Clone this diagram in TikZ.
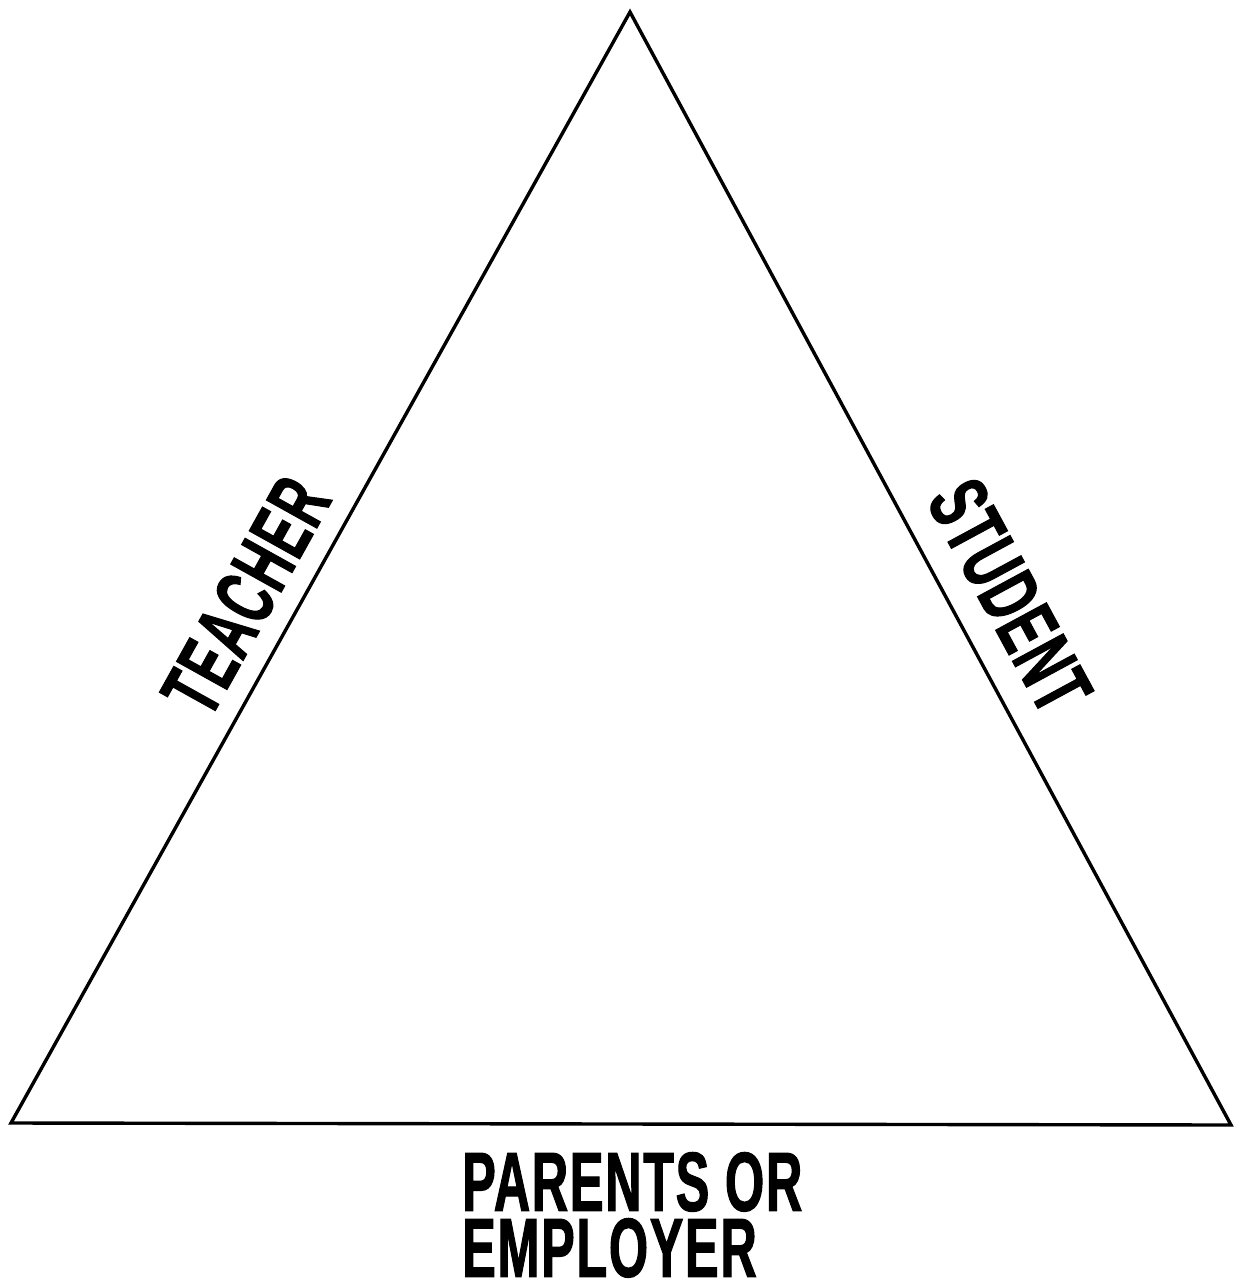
\documentclass[tikz,border=0pt]{standalone}
\usepackage{fontspec}
\newfontfamily\cond[FakeStretch=0.6,FakeBold=1.2,LetterSpace=2]{Liberation Sans}
\begin{document}
\begin{tikzpicture}[x=1pt,y=-1pt,
  edge/.style={line width=3.4pt,line join=miter,line cap=round},
  lbl/.style={inner sep=0pt,font=\cond\bfseries\fontsize{84}{66}\selectfont}]
\useasboundingbox[fill=white] (0,0) rectangle (1234,1283);
\coordinate (apex) at (630,12);
\coordinate (bl) at (11,1123);
\coordinate (br) at (1231,1125);
\draw[edge] (apex) -- (br) -- (bl) -- cycle;
\node[lbl,rotate=60.9] (teacher) at (246,596) {TEACHER};
\node[lbl,rotate=-61.6] (student) at (1010,596) {STUDENT};
\node[lbl,align=left,anchor=north west] (parents) at (462,1152) {PARENTS OR\\EMPLOYER};
\end{tikzpicture}
\end{document}
